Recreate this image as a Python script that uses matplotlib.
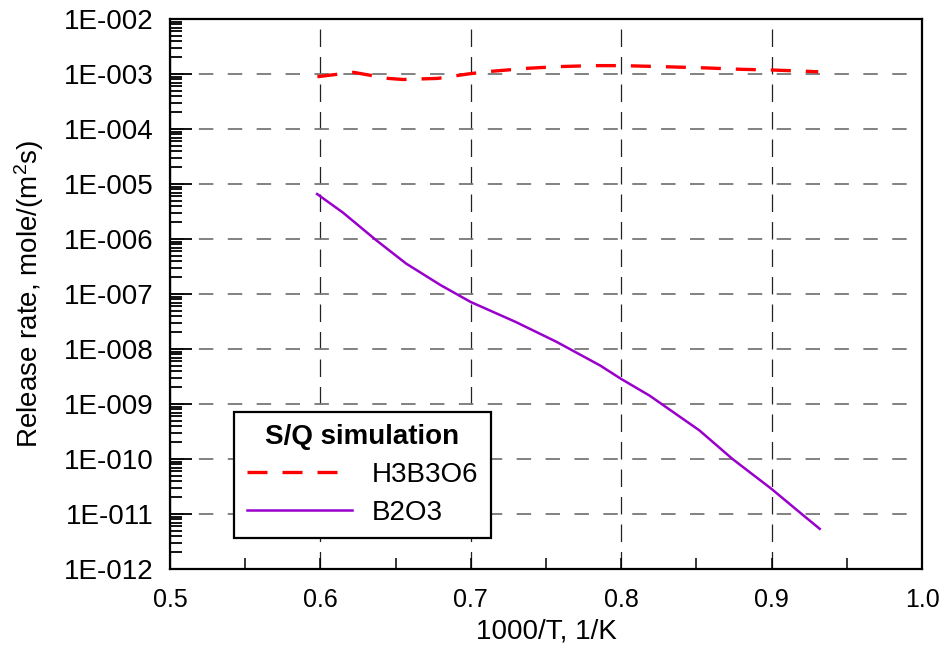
import matplotlib
matplotlib.use("Agg")
import matplotlib.pyplot as plt
from matplotlib.ticker import FixedLocator, FuncFormatter, LogLocator, NullFormatter, MultipleLocator
import numpy as np

plt.rcParams['font.family'] = ['Liberation Sans', 'DejaVu Sans']
plt.rcParams['mathtext.fontset'] = 'custom'
plt.rcParams['mathtext.rm'] = 'Liberation Sans'
plt.rcParams['mathtext.it'] = 'Liberation Sans:italic'
plt.rcParams['mathtext.bf'] = 'Liberation Sans:bold'

# Data (1000/T, log10 of release rate)
h3_x = [0.598, 0.622, 0.645, 0.655, 0.678, 0.698, 0.711, 0.738, 0.758, 0.781, 0.801, 0.827, 0.857, 0.880, 0.900, 0.923, 0.931]
h3_log = [-3.049, -2.97, -3.08, -3.10, -3.08, -3.00, -2.957, -2.896, -2.866, -2.848, -2.848, -2.866, -2.89, -2.915, -2.927, -2.95, -2.96]

b2_x = [0.5978, 0.615, 0.637, 0.657, 0.680, 0.700, 0.730, 0.757, 0.786, 0.800, 0.819, 0.852, 0.874, 0.900, 0.920, 0.932]
b2_log = [-5.182, -5.52, -6.02, -6.447, -6.84, -7.146, -7.51, -7.87, -8.30, -8.545, -8.85, -9.48, -10.0, -10.545, -11.0, -11.27]

x_ticks = [0.5, 0.6, 0.7, 0.8, 0.9, 1.0]
y_exps = list(range(-12, -1))

FS = 20

fig = plt.figure(figsize=(9.47, 6.5), dpi=100)
L, R, T, B = 170, 922, 19, 569
ax = fig.add_axes([L/947, 1-B/650, (R-L)/947, (B-T)/650])

ax.plot(h3_x, 10.0**np.array(h3_log), color='#FF0000', lw=2.4, dashes=(6, 4.5), label='H3B3O6', zorder=3)
ax.plot(b2_x, 10.0**np.array(b2_log), color='#9900CC', lw=1.8, label='B2O3', zorder=3)

ax.set_yscale('log')
ax.set_xlim(0.5, 1.0)
ax.set_ylim(1e-12, 1e-2)

ax.xaxis.set_major_locator(FixedLocator(x_ticks))
ax.xaxis.set_minor_locator(MultipleLocator(0.05))
ax.xaxis.set_major_formatter(FuncFormatter(lambda v, p: f"{v:.1f}"))
ax.yaxis.set_major_locator(FixedLocator([10.0**e for e in y_exps]))
ax.yaxis.set_minor_locator(LogLocator(base=10, subs=np.arange(2, 10), numticks=100))
ax.yaxis.set_minor_formatter(NullFormatter())
ax.yaxis.set_major_formatter(FuncFormatter(lambda v, p: f"1E-{abs(int(round(np.log10(v)))):03d}"))

ax.tick_params(axis='both', which='both', direction='in', colors='black')
ax.tick_params(axis='x', which='major', length=8, width=1.1, pad=14, top=False, labelsize=18)
ax.tick_params(axis='x', which='minor', length=8, width=1.1, top=False)
ax.tick_params(axis='y', which='major', length=16, width=1.3, pad=12, labelsize=FS)
ax.tick_params(axis='y', which='minor', length=8.5, width=1.3)

ax.grid(True, axis='y', which='major', color='#777777', linestyle=(0, (8, 8)), linewidth=1.3)
ax.grid(True, axis='x', which='major', color='#222222', linestyle=(0, (14, 8)), linewidth=0.9)

for s in ax.spines.values():
    s.set_linewidth(1.6)

ax.set_xlabel('1000/T, 1/K', fontsize=FS, labelpad=4)
ax.set_ylabel('Release rate, mole/(m$^2$s)', fontsize=FS, labelpad=13)

leg = ax.legend(title='S/Q simulation', loc='lower left', bbox_to_anchor=((234-L)/(R-L), (B-538)/(B-T)),
                fontsize=FS, title_fontproperties={'weight': 'bold', 'size': FS},
                frameon=True, fancybox=False, framealpha=1, edgecolor='black',
                handlelength=3.8, handletextpad=0.7, borderpad=0.45, labelspacing=0.42,
                borderaxespad=0)
leg.get_frame().set_linewidth(1.6)

fig.savefig('out.png', dpi=100)
